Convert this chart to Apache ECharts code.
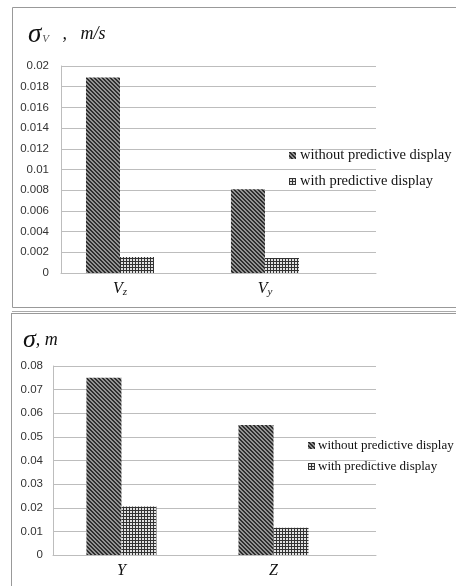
<!DOCTYPE html>
<html>
<head>
<meta charset="utf-8">
<script src="https://cdn.jsdelivr.net/npm/echarts@6/dist/echarts.min.js"></script>
<style>
  html, body { margin: 0; padding: 0; background: #fff; }
  #chart { width: 456px; height: 586px; }
</style>
</head>
<body>
<div id="chart"></div>
<script>
// velocity panel
const velCategories = ['Vz', 'Vy'];
const velWithout = [0.0189, 0.0081];
const velWith = [0.00155, 0.00145];
const velTicks = ['0', '0.002', '0.004', '0.006', '0.008', '0.01', '0.012', '0.014', '0.016', '0.018', '0.02'];

// position panel
const posCategories = ['Y', 'Z'];
const posWithout = [0.075, 0.055];
const posWith = [0.0205, 0.0115];
const posTicks = ['0', '0.01', '0.02', '0.03', '0.04', '0.05', '0.06', '0.07', '0.08'];

const seriesNames = ['without predictive display', 'with predictive display'];

// hatch patterns like the old excel fills
function diagPattern() {
  const c = document.createElement('canvas');
  c.width = 4; c.height = 4;
  const ctx = c.getContext('2d');
  ctx.fillStyle = '#939393';
  ctx.fillRect(0, 0, 4, 4);
  ctx.fillStyle = '#2e2e2e';
  for (let i = 0; i < 4; i++) {
    ctx.fillRect(i, i, 1, 1);
    ctx.fillRect((i + 1) % 4, i, 1, 1);
  }
  return { image: c, repeat: 'repeat' };
}
function gridPattern() {
  const c = document.createElement('canvas');
  c.width = 3; c.height = 3;
  const ctx = c.getContext('2d');
  ctx.fillStyle = '#e2e2e2';
  ctx.fillRect(0, 0, 3, 3);
  ctx.fillStyle = '#333';
  ctx.fillRect(0, 0, 3, 1);
  ctx.fillRect(0, 0, 1, 3);
  return { image: c, repeat: 'repeat' };
}
const fillWithout = diagPattern();
const fillWith = gridPattern();

const tickFont = { fontFamily: 'Liberation Sans', fontSize: 11.5, color: '#333' };
const serif = 'Liberation Serif';

const catRich = {
  v: { fontFamily: serif, fontStyle: 'italic', fontSize: 16, color: '#111' },
  s: { fontFamily: serif, fontStyle: 'italic', fontSize: 11, color: '#111', padding: [8, 0, 0, 0] }
};
function catLabel(cats) {
  return function (val) {
    const name = cats[Math.round(val)];
    if (!name) return '';
    if (name.length > 1) return '{v|' + name[0] + '}{s|' + name.slice(1) + '}';
    return '{v|' + name + '}';
  };
}

const yAxisLine = { show: true, onZero: false, lineStyle: { color: '#bdbdbd' } };

const chart = echarts.init(document.getElementById('chart'));
chart.setOption({
  animation: false,
  backgroundColor: '#fff',
  title: [
    {
      text: '{g|σ}{sub|V}{t|   ,   m/s}',
      left: 23, top: 16,
      textStyle: {
        rich: {
          g: { fontFamily: serif, fontStyle: 'italic', fontWeight: 'normal', fontSize: 27, color: '#111' },
          sub: { fontFamily: serif, fontStyle: 'italic', fontWeight: 'normal', fontSize: 11, color: '#555', padding: [10, 0, 0, 1] },
          t: { fontFamily: serif, fontStyle: 'italic', fontWeight: 'normal', fontSize: 18, color: '#111' }
        }
      }
    },
    {
      text: '{g|σ}{t|, m}',
      left: 18, top: 322,
      textStyle: {
        rich: {
          g: { fontFamily: serif, fontStyle: 'italic', fontWeight: 'normal', fontSize: 26, color: '#111' },
          t: { fontFamily: serif, fontStyle: 'italic', fontWeight: 'normal', fontSize: 18, color: '#111' }
        }
      }
    }
  ],
  legend: [
    {
      data: seriesNames.slice(),
      orient: 'vertical',
      left: 284, top: 143,
      itemWidth: 7, itemHeight: 7, itemGap: 11,
      icon: 'rect',
      textStyle: { fontFamily: serif, fontSize: 14.5, color: '#111', padding: [0, 0, 0, -1] }
    },
    {
      data: seriesNames.slice(),
      orient: 'vertical',
      left: 303, top: 434,
      itemWidth: 7, itemHeight: 7, itemGap: 8,
      icon: 'rect',
      textStyle: { fontFamily: serif, fontSize: 13, color: '#111', padding: [0, 0, 0, -2] }
    }
  ],
  grid: [
    { left: 61, top: 66, width: 315, height: 207 },
    { left: 53, top: 366, width: 323, height: 189 }
  ],
  xAxis: [
    {
      type: 'value', gridIndex: 0, min: -0.407, max: 1.766,
      splitLine: { show: false },
      axisLine: { show: true, lineStyle: { color: '#bdbdbd' } },
      axisTick: { show: false },
      axisLabel: { customValues: [0, 1], formatter: catLabel(velCategories), margin: 6, rich: catRich }
    },
    {
      type: 'value', gridIndex: 1, min: -0.45, max: 1.674,
      splitLine: { show: false },
      axisLine: { show: true, lineStyle: { color: '#bdbdbd' } },
      axisTick: { show: false },
      axisLabel: { customValues: [0, 1], formatter: catLabel(posCategories), margin: 8, rich: catRich }
    }
  ],
  yAxis: [
    {
      type: 'value', gridIndex: 0, min: 0, max: 0.02, interval: 0.002,
      axisLine: yAxisLine,
      axisTick: { show: false },
      splitLine: { lineStyle: { color: '#bdbdbd' } },
      axisLabel: Object.assign({ margin: 12, formatter: (v, i) => velTicks[i] }, tickFont)
    },
    {
      type: 'value', gridIndex: 1, min: 0, max: 0.08, interval: 0.01,
      axisLine: yAxisLine,
      axisTick: { show: false },
      splitLine: { lineStyle: { color: '#bdbdbd' } },
      axisLabel: Object.assign({ margin: 10, formatter: (v, i) => posTicks[i] }, tickFont)
    }
  ],
  series: [
    {
      name: seriesNames[0], type: 'bar', xAxisIndex: 0, yAxisIndex: 0,
      barWidth: 34, barGap: 0,
      itemStyle: { color: fillWithout },
      data: velWithout.map((v, i) => [i, v])
    },
    {
      name: seriesNames[1], type: 'bar', xAxisIndex: 0, yAxisIndex: 0,
      barWidth: 34, barGap: 0,
      itemStyle: { color: fillWith },
      data: velWith.map((v, i) => [i, v])
    },
    {
      name: seriesNames[0], type: 'bar', xAxisIndex: 1, yAxisIndex: 1,
      barWidth: 35, barGap: 0,
      itemStyle: { color: fillWithout },
      data: posWithout.map((v, i) => [i, v])
    },
    {
      name: seriesNames[1], type: 'bar', xAxisIndex: 1, yAxisIndex: 1,
      barWidth: 35, barGap: 0,
      itemStyle: { color: fillWith },
      data: posWith.map((v, i) => [i, v])
    }
  ],
  graphic: [
    // panel frames
    { type: 'rect', shape: { x: 12.5, y: 7.5, width: 460, height: 300 }, style: { fill: null, stroke: '#999', lineWidth: 1 }, silent: true },
    { type: 'line', shape: { x1: 12, y1: 311.5, x2: 456, y2: 311.5 }, style: { stroke: '#aaa', lineWidth: 1 }, silent: true },
    { type: 'line', shape: { x1: 11, y1: 313.5, x2: 456, y2: 313.5 }, style: { stroke: '#999', lineWidth: 1 }, silent: true },
    { type: 'line', shape: { x1: 11.5, y1: 313, x2: 11.5, y2: 586 }, style: { stroke: '#999', lineWidth: 1 }, silent: true }
  ]
});
</script>
</body>
</html>
